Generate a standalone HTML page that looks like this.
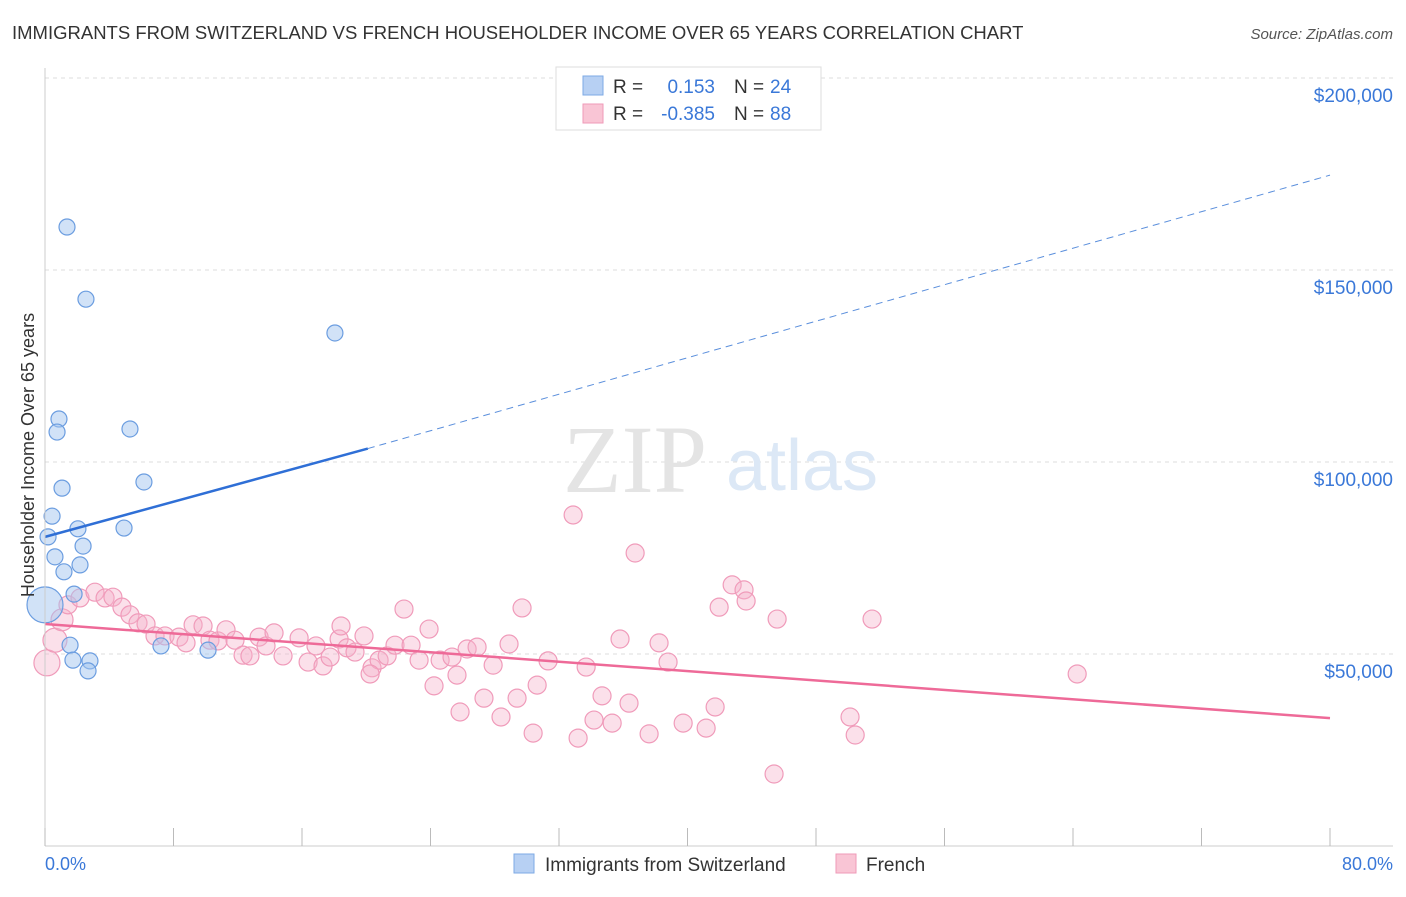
<!DOCTYPE html>
<html><head><meta charset="utf-8"><style>
body{margin:0;background:#fff;font-family:"Liberation Sans",sans-serif;}
svg text{font-family:"Liberation Sans",sans-serif;}
</style></head><body>
<svg id="chart" width="1406" height="892" xmlns="http://www.w3.org/2000/svg">
<text x="12" y="39" font-size="18.5" fill="#333">IMMIGRANTS FROM SWITZERLAND VS FRENCH HOUSEHOLDER INCOME OVER 65 YEARS CORRELATION CHART</text>
<text x="1393" y="39" font-size="15" fill="#555" text-anchor="end" font-style="italic">Source: ZipAtlas.com</text>
<g id="grid"></g>
<g>
<text x="635" y="492" font-size="96" fill="#e4e4e4" text-anchor="middle" font-family="Liberation Serif" style="font-family:'Liberation Serif',serif">ZIP</text>
<text x="802" y="490" font-size="72" fill="#dce8f6" text-anchor="middle">atlas</text>
</g>
<g id="marks"></g>
<line x1="45" y1="846" x2="1393" y2="846" stroke="#ccc"/>
<line x1="45" y1="68" x2="45" y2="846" stroke="#ccc"/>
<g id="ticks"></g>
<text x="45" y="870" font-size="18" fill="#3a78d8">0.0%</text>
<text x="1393" y="870" font-size="18" fill="#3a78d8" text-anchor="end">80.0%</text>
<text transform="translate(34,455) rotate(-90)" font-size="18" fill="#333" text-anchor="middle">Householder Income Over 65 years</text>
<g>
<rect x="556" y="67" width="265" height="63" fill="#fff" stroke="#ddd"/>
<rect x="583" y="76" width="20" height="19" fill="#b7d0f3" stroke="#7eaae5"/>
<rect x="583" y="104" width="20" height="19" fill="#f9c5d5" stroke="#ef9ab8"/>
<text x="613" y="93" font-size="19" fill="#333">R =</text>
<text x="715" y="93" font-size="19" fill="#3a78d8" text-anchor="end">0.153</text>
<text x="734" y="93" font-size="19" fill="#333">N =</text>
<text x="770" y="93" font-size="19" fill="#3a78d8">24</text>
<text x="613" y="120" font-size="19" fill="#333">R =</text>
<text x="715" y="120" font-size="19" fill="#3a78d8" text-anchor="end">-0.385</text>
<text x="734" y="120" font-size="19" fill="#333">N =</text>
<text x="770" y="120" font-size="19" fill="#3a78d8">88</text>
</g>
<g>
<rect x="514" y="854" width="20" height="19" fill="#b7d0f3" stroke="#7eaae5"/>
<text x="545" y="871" font-size="19" fill="#333">Immigrants from Switzerland</text>
<rect x="836" y="854" width="20" height="19" fill="#f9c5d5" stroke="#ef9ab8"/>
<text x="866" y="871" font-size="19" fill="#333">French</text>
</g>
</svg>
<script>
const yTicks=[50000,100000,150000,200000];
const yTickLabels=["$50,000","$100,000","$150,000","$200,000"];
const xTicks=[0,8,16,24,32,40,48,56,64,72,80];
const blueX=[1.37,2.55,18.05,0.87,0.75,5.29,1.06,6.16,0.44,2.05,4.92,0.19,2.37,0.62,2.18,1.18,1.81,0,1.56,7.22,10.15,1.74,2.8,2.68];
const blueY=[161.2,142.4,133.6,111.2,107.8,108.6,93.2,94.8,85.9,82.6,82.8,80.5,78.1,75.3,73.2,71.4,65.6,62.8,52.3,52.1,51.0,48.4,48.2,45.6];
const pinkX=[32.88,36.74,42.78,43.52,43.65,41.97,29.70,22.35,45.58,51.49,23.91,35.80,38.23,28.89,64.26,31.32,33.69,38.79,27.90,24.22,27.33,29.39,30.64,34.68,36.36,25.84,41.72,28.39,34.18,35.31,39.73,41.16,30.39,37.61,33.19,50.12,50.44,45.39,0.12,0.62,1.06,1.43,2.18,3.11,3.74,4.23,4.79,5.29,5.79,6.29,6.85,7.47,8.34,8.78,9.22,9.84,10.27,10.77,11.27,11.83,12.33,12.76,13.33,13.76,14.26,14.82,15.82,16.38,16.87,17.31,17.75,18.31,18.80,19.30,19.86,20.36,20.80,21.30,21.79,22.79,23.29,24.60,25.34,26.28,26.90,25.65,20.24,18.43];
const pinkY=[86.2,76.3,68.0,66.7,63.8,62.2,62.0,61.7,59.1,59.1,56.5,53.9,52.9,52.6,44.8,48.2,46.6,47.9,47.1,41.7,38.5,38.5,41.9,39.1,37.2,34.9,36.2,33.6,32.8,32.0,32.0,30.7,29.4,29.2,28.1,33.6,28.9,18.75,47.7,53.6,58.9,62.8,64.6,66.1,64.6,64.8,62.2,60.2,58.1,57.8,54.7,54.7,54.4,52.9,57.6,57.3,53.6,53.4,56.3,53.6,49.7,49.5,54.4,52.1,55.5,49.5,54.2,47.9,52.1,46.9,49.2,53.9,51.6,50.5,54.7,46.4,48.4,49.5,52.3,52.3,48.4,48.4,49.2,51.3,51.8,44.5,44.8,57.3];
const blueTrendX=[0,20.1,80];
const blueTrendY=[80.5,103.5,174.7];
const pinkTrendX=[0,80];
const pinkTrendY=[57.8,33.3];
const NS="http://www.w3.org/2000/svg";
const xs=v=>45+v/80*1285;
const ys=k=>846-k*1000/50000*192;
function mk(tag,attrs,parent){const e=document.createElementNS(NS,tag);for(const k in attrs)e.setAttribute(k,attrs[k]);parent.appendChild(e);return e;}
const grid=document.getElementById('grid'),ticks=document.getElementById('ticks'),marks=document.getElementById('marks');
yTicks.forEach((v,i)=>{
  const y=ys(v/1000);
  const l=mk('line',{x1:45,x2:1393,y1:y,y2:y,stroke:'#ddd','stroke-dasharray':'4,4'},grid);
  
  
  const t=mk('text',{x:1393,y:y+24,'font-size':19,fill:'#3a78d8','text-anchor':'end'},ticks);
  t.textContent=yTickLabels[i];
  
  
});
xTicks.forEach(v=>{
  const l=mk('line',{x1:xs(v),x2:xs(v),y1:828,y2:846,stroke:'#bbb'},ticks);
  
  
});
pinkX.forEach((x,i)=>{
  const r=i===38?13:i===39?12:i===40?11:9;
  const c=mk('circle',{cx:xs(x),cy:ys(pinkY[i]),r:r,fill:'rgba(246,178,202,0.4)',stroke:'#f09bba','stroke-width':1.2},marks);
  
  
});
blueX.forEach((x,i)=>{
  const r=i===17?18:8;
  const c=mk('circle',{cx:xs(x),cy:ys(blueY[i]),r:r,fill:'rgba(164,198,240,0.5)',stroke:'#6b9de0','stroke-width':1.2},marks);
  
  
});
const bs=mk('line',{x1:xs(blueTrendX[0]),y1:ys(blueTrendY[0]),x2:xs(blueTrendX[1]),y2:ys(blueTrendY[1]),stroke:'#2f6fd6','stroke-width':2.5},marks);


const bd=mk('line',{x1:xs(blueTrendX[1]),y1:ys(blueTrendY[1]),x2:xs(blueTrendX[2]),y2:ys(blueTrendY[2]),stroke:'#5b8fdc','stroke-width':1,'stroke-dasharray':'7,5'},marks);


const pt=mk('line',{x1:xs(pinkTrendX[0]),y1:ys(pinkTrendY[0]),x2:xs(pinkTrendX[1]),y2:ys(pinkTrendY[1]),stroke:'#ee6a98','stroke-width':2.5},marks);


</script>
</body></html>
